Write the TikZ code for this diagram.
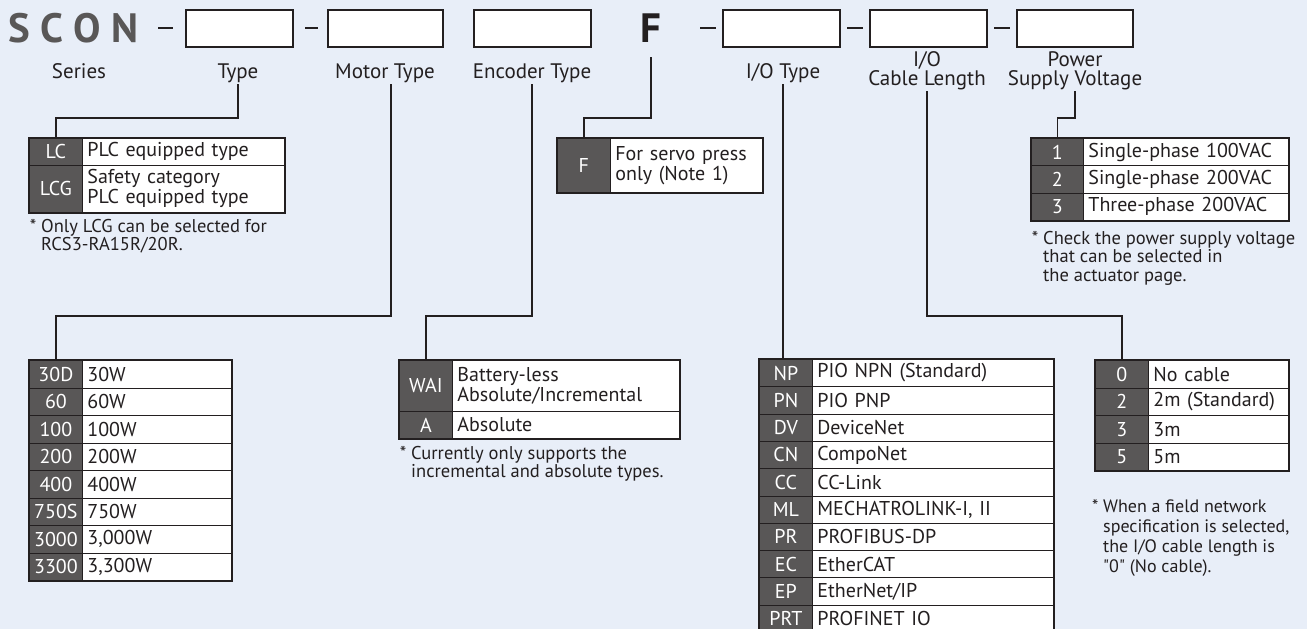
\documentclass[tikz,border=0pt]{standalone}
\usepackage{fontspec}
\setmainfont{PT Sans}[Ligatures=TeXOff]
\usetikzlibrary{calc}
\definecolor{bgblue}{RGB}{232,238,248}
\definecolor{keygray}{RGB}{89,87,87}
\definecolor{inkdark}{RGB}{35,31,32}
\newcommand{\codefont}{\fontsize{41}{41}\selectfont\bfseries}
\newcommand{\lblfont}{\fontsize{21}{19}\selectfont}
\newcommand{\tabfont}{\fontsize{20}{20}\selectfont}
\newcommand{\notefont}{\fontsize{18.5}{18.5}\selectfont}
\tikzset{
  slot/.style={
    draw=inkdark,
    line width=1.2pt,
    fill=white,
    minimum height=37pt,
    inner sep=0pt
  },
  dashmark/.style={
    draw=inkdark,
    line width=1.3pt
  },
  lbl/.style={
    font=\lblfont,
    text=inkdark,
    inner sep=0pt,
    outer sep=2pt,
    text depth=4pt,
    align=center,
    anchor=south
  },
  link/.style={
    draw=inkdark,
    line width=1.3pt
  },
  keycell/.style={
    draw=inkdark,
    line width=0.8pt,
    fill=keygray,
    text=white,
    font=\tabfont,
    inner sep=0pt,
    minimum width=53pt,
    anchor=north west
  },
  valcell/.style={
    draw=inkdark,
    line width=0.8pt,
    fill=white,
    text=inkdark,
    font=\tabfont,
    inner xsep=5pt,
    inner ysep=0pt,
    align=left,
    anchor=north west
  },
  tabframe/.style={
    draw=inkdark,
    line width=1.6pt
  },
  note/.style={
    font=\notefont,
    text=inkdark,
    inner sep=0pt,
    align=left,
    anchor=north west
  }
}

\begin{document}
\begin{tikzpicture}[x=1pt, y=-1pt]
    % page: 1 unit = 1 pixel of the 1307 x 629 sheet, y downwards
    \useasboundingbox (0,0) rectangle (1307,629);
    \clip (0,0) rectangle (1307,629);
    \fill[bgblue] (0,0) rectangle (1307,629);

    % model code line
    \node[anchor=base west, font=\codefont, text=keygray, inner sep=0pt] (series) at (8,42) {S\kern10.5pt C\kern10.5pt O\kern10.5pt N};
    \node[slot, minimum width=107pt] (bType) at (239.5,28.5) {};
    \node[slot, minimum width=115pt] (bMotor) at (385.5,28.5) {};
    \node[slot, minimum width=117pt] (bEnc) at (532.5,28.5) {};
    \node[anchor=base, font=\codefont, text=inkdark, inner sep=0pt] (codeF) at (651,42) {F};
    \node[slot, minimum width=117pt] (bIO) at (781.5,28.5) {};
    \node[slot, minimum width=117pt] (bCable) at (928.5,28.5) {};
    \node[slot, minimum width=116pt] (bPower) at (1075,28.5) {};
    \foreach \xa/\xb in {158/173, 305/318, 700/716, 847/863, 994/1010} {
      \draw[dashmark] (\xa,28) -- (\xb,28);
    }

    % field names
    \node[lbl] (lblSeries) at (79,84) {Series};
    \node[lbl] (lblType) at (238,84) {Type};
    \node[lbl] (lblMotor) at (385,84) {Motor Type};
    \node[lbl] (lblEnc) at (532,84) {Encoder Type};
    \node[lbl] (lblIO) at (783,84) {I/O Type};
    \node[lbl] (lblCable) at (927,91) {I/O\\Cable Length};
    \node[lbl] (lblPower) at (1075,91) {Power\\Supply Voltage};

    % bend heights of the leaders
    \coordinate (busTop) at (0,118);
    \coordinate (busLow) at (0,316);

    % Type: LC / LCG
    \node[keycell, minimum height=27pt] (kLC) at (29,138) {LC};
    \node[valcell, text width=192pt, minimum height=27pt] (vLC) at (82,138) {PLC equipped type};
    \node[keycell, minimum height=47pt] (kLCG) at (29,165) {LCG};
    \node[valcell, text width=192pt, minimum height=47pt] (vLCG) at (82,165) {Safety category\\PLC equipped type};
    \draw[tabframe] (kLC.north west) rectangle (vLCG.south east);
    \node[note] (nType) at (41,219) {\llap{* }Only LCG can be selected for\\RCS3-RA15R/20R.};

    % option F
    \node[keycell, minimum height=54pt] (kF) at (557,138) {F};
    \node[valcell, text width=142pt, minimum height=54pt] (vF) at (610,138) {For servo press\\only (Note 1)};
    \draw[tabframe] (kF.north west) rectangle (vF.south east);

    % Power supply voltage
    \foreach \k/\v [count=\i from 0] in {1/Single-phase 100VAC, 2/Single-phase 200VAC, 3/Three-phase 200VAC} {
      \node[keycell, minimum width=52pt, minimum height=27.3pt] (kV\i) at (1031,{138+27.3*\i}) {\k};
      \node[valcell, text width=195pt, minimum height=27.3pt] (vV\i) at (1083,{138+27.3*\i}) {\v};
    }
    \draw[tabframe] (kV0.north west) rectangle (vV2.south east);
    \node[note] (nPower) at (1043,231) {\llap{* }Check the power supply voltage\\that can be selected in\\the actuator page.};

    % Motor type
    \foreach \k/\v [count=\i from 0] in {30D/30W, 60/60W, 100/100W, 200/200W, 400/400W, 750S/750W, 3000/{3,000W}, 3300/{3,300W}} {
      \node[keycell, minimum height=27.5pt] (kM\i) at (29,{360+27.5*\i}) {\k};
      \node[valcell, text width=139pt, minimum height=27.5pt] (vM\i) at (82,{360+27.5*\i}) {\v};
    }
    \draw[tabframe] (kM0.north west) rectangle (vM7.south east);

    % Encoder type
    \node[keycell, minimum height=51pt] (kWAI) at (399,360) {WAI};
    \node[valcell, text width=217pt, minimum height=51pt] (vWAI) at (452,360) {Battery-less\\Absolute/Incremental};
    \node[keycell, minimum height=27pt] (kA) at (399,411) {A};
    \node[valcell, text width=217pt, minimum height=27pt] (vA) at (452,411) {Absolute};
    \draw[tabframe] (kWAI.north west) rectangle (vA.south east);
    \node[note] (nEnc) at (411,446) {\llap{* }Currently only supports the\\incremental and absolute types.};

    % I/O type
    \foreach \k/\v [count=\i from 0] in {NP/PIO NPN (Standard), PN/PIO PNP, DV/DeviceNet, CN/CompoNet, CC/CC-Link, ML/{MECHATROLINK-I, II}, PR/PROFIBUS-DP, EC/EtherCAT, EP/{EtherNet/IP}, PRT/PROFINET IO} {
      \node[keycell, minimum height=27.3pt] (kIO\i) at (759,{359+27.3*\i}) {\k};
      \node[valcell, text width=231pt, minimum height=27.3pt] (vIO\i) at (812,{359+27.3*\i}) {\v};
    }
    \draw[tabframe] (kIO0.north west) rectangle (vIO9.south east);

    % I/O cable length
    \foreach \k/\v [count=\i from 0] in {0/No cable, 2/2m (Standard), 3/3m, 5/5m} {
      \node[keycell, minimum height=27.5pt] (kC\i) at (1095,{360+27.5*\i}) {\k};
      \node[valcell, text width=130pt, minimum height=27.5pt] (vC\i) at (1148,{360+27.5*\i}) {\v};
    }
    \draw[tabframe] (kC0.north west) rectangle (vC3.south east);
    \node[note, font=\fontsize{18}{20.3}\selectfont] (nCable) at (1103,499) {\llap{* }When a field network\\specification is selected,\\the I/O cable length is\\"0" (No cable).};

    % leaders from field names to the option tables
    \draw[link] (lblType.south) -- (lblType.south |- busTop) -| (kLC.north);
    \draw[link] ([xshift=6pt]lblMotor.south) -- ([xshift=6pt]lblMotor.south |- busLow) -| (kM0.north);
    \draw[link] (lblEnc.south) -- (lblEnc.south |- busLow) -| (kWAI.north);
    \draw[link] ([yshift=-15pt]codeF.south) -- (codeF.south |- busTop) -| (kF.north);
    \draw[link] (lblIO.south) -- (lblIO.south |- kIO0.north);
    \draw[link] (lblCable.south) -- (lblCable.south |- busLow) -| (kC0.north);
    \draw[link] (lblPower.south) -- (lblPower.south |- busTop) -| (kV0.north);

  \end{tikzpicture}
\end{document}
